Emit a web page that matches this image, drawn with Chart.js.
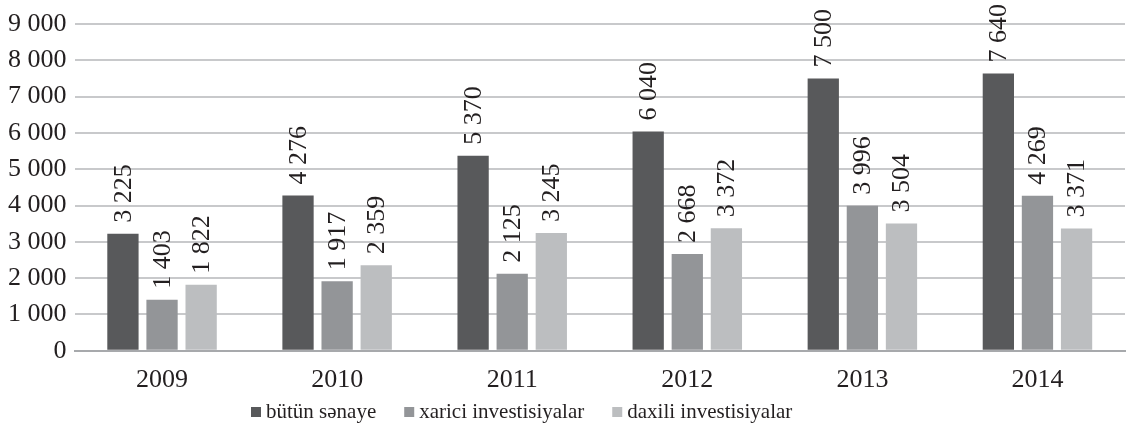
<!DOCTYPE html>
<html>
<head>
<meta charset="utf-8">
<script src="https://cdn.jsdelivr.net/npm/chart.js@4/dist/chart.umd.min.js"></script>
<style>
  html, body { margin: 0; padding: 0; background: #fff; }
  #wrap { width: 1130px; height: 435px; }
</style>
</head>
<body>
<div id="wrap"><canvas id="myChart"></canvas></div>
<script>
const years = ['2009', '2010', '2011', '2012', '2013', '2014'];
const butunSenaye = [3225, 4276, 5370, 6040, 7500, 7640];
const xariciInv = [1403, 1917, 2125, 2668, 3996, 4269];
const daxiliInv = [1822, 2359, 3245, 3372, 3504, 3371];
const seriesNames = ['bütün sənaye', 'xarici investisiyalar', 'daxili investisiyalar'];
const seriesColors = ['#58595b', '#939598', '#bcbec0'];

const fmt = v => String(v).replace(/\B(?=(\d{3})+(?!\d))/g, ' ');
const serif = "'Liberation Serif', 'Times New Roman', serif";
const textColor = '#231f20';

// rotated value labels above each bar
const barLabels = {
  id: 'barLabels',
  afterDatasetsDraw(chart) {
    const ctx = chart.ctx;
    ctx.save();
    ctx.font = '26px ' + serif;
    ctx.fillStyle = textColor;
    ctx.textAlign = 'left';
    ctx.textBaseline = 'middle';
    chart.data.datasets.forEach((ds, i) => {
      chart.getDatasetMeta(i).data.forEach((bar, j) => {
        ctx.save();
        ctx.translate(bar.x + 1, bar.y - 11);
        ctx.rotate(-Math.PI / 2);
        ctx.fillText(fmt(ds.data[j]), 0, 0);
        ctx.restore();
      });
    });
    ctx.restore();
  }
};

// legend along the bottom, drawn by hand to get the spacing of the original
const bottomLegend = {
  id: 'bottomLegend',
  afterDraw(chart) {
    const ctx = chart.ctx;
    ctx.save();
    ctx.font = '21px ' + serif;
    ctx.textBaseline = 'middle';
    let x = 251;
    const y = 412;
    chart.data.datasets.forEach(ds => {
      ctx.fillStyle = ds.backgroundColor;
      ctx.fillRect(x, y - 5, 10, 10);
      ctx.fillStyle = textColor;
      ctx.fillText(ds.label, x + 15, y);
      x += 15 + ctx.measureText(ds.label).width + 28;
    });
    ctx.restore();
  }
};

const ctx = document.getElementById('myChart').getContext('2d');
new Chart(ctx, {
  type: 'bar',
  data: {
    labels: years,
    datasets: [
      { label: seriesNames[0], data: butunSenaye, backgroundColor: seriesColors[0] },
      { label: seriesNames[1], data: xariciInv, backgroundColor: seriesColors[1] },
      { label: seriesNames[2], data: daxiliInv, backgroundColor: seriesColors[2] }
    ]
  },
  options: {
    responsive: true,
    maintainAspectRatio: false,
    animation: false,
    layout: { padding: { top: 24, right: 5, left: 0, bottom: 25 } },
    datasets: {
      bar: {
        categoryPercentage: 0.67,
        barPercentage: 0.8,
        borderWidth: 0
      }
    },
    plugins: {
      legend: { display: false },
      tooltip: { enabled: false }
    },
    scales: {
      x: {
        grid: { display: false, drawTicks: false },
        border: { color: '#a7a9ac', width: 2 },
        ticks: { font: { family: serif, size: 26 }, color: textColor, padding: 14 }
      },
      y: {
        min: 0,
        max: 9000,
        grid: { color: '#c8c9cb', lineWidth: 2, drawTicks: false },
        border: { display: false },
        ticks: {
          stepSize: 1000,
          font: { family: serif, size: 26 },
          color: textColor,
          padding: 8,
          callback: v => fmt(v)
        }
      }
    }
  },
  plugins: [barLabels, bottomLegend]
});
</script>
</body>
</html>
